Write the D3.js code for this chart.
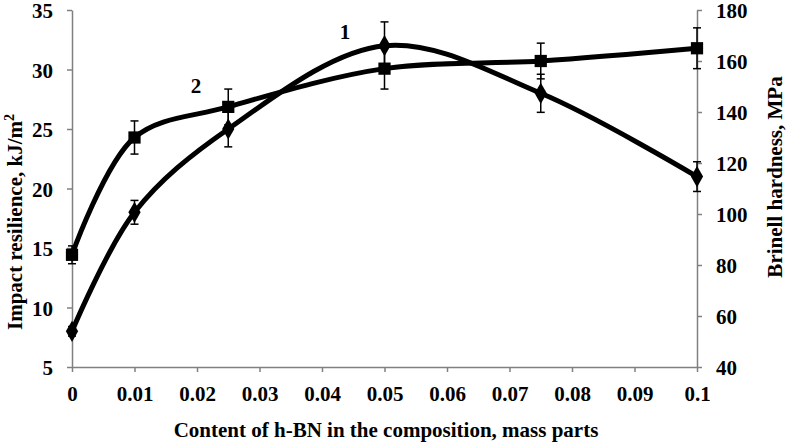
<!doctype html>
<html>
  <head>
    <title>h-BN content chart</title>
    <style>
      * { margin: 0; padding: 0; }
      body { background: #fff; }
      text { font-family: "Liberation Serif", "Times New Roman", serif; font-weight: bold; fill: #000; }
    </style>
    <script src="https://cdnjs.cloudflare.com/ajax/libs/d3/7.8.5/d3.min.js"></script>
  </head>
  <body>
    <script>
      // data
      var contents = [0, 0.01, 0.025, 0.05, 0.075, 0.1];
      var impact = [8, 18, 25, 32, 28, 21];           // curve 1, kJ/m2 (left axis)
      var impactErr = [0.4, 1, 1.5, 2, 1.6, 1.25];
      var hardness = [84, 130, 142, 157, 160, 165];   // curve 2, MPa (right axis)
      var hardnessErr = [3.5, 6.5, 7, 8, 7, 8];
      var xTicks = [0, 0.01, 0.02, 0.03, 0.04, 0.05, 0.06, 0.07, 0.08, 0.09, 0.1];
      var leftTicks = [5, 10, 15, 20, 25, 30, 35];
      var rightTicks = [40, 60, 80, 100, 120, 140, 160, 180];

      var width = 787, height = 444;
      var margin = {top: 10, right: 90, bottom: 77, left: 72};
      var fs = 21;

      var svg = d3.select("body").append("svg")
                  .attr("width", width)
                  .attr("height", height);

      var x = d3.scaleLinear().domain([0, 0.1]).range([margin.left, width - margin.right]);
      var yL = d3.scaleLinear().domain([5, 35]).range([height - margin.bottom, margin.top]);
      var yR = d3.scaleLinear().domain([40, 180]).range([height - margin.bottom, margin.top]);

      function styleAxis(g) {
        g.selectAll("path, line").attr("stroke", "#808080").attr("stroke-width", 1.5);
        g.selectAll("text").attr("font-size", fs + "px").attr("font-family", null);
      }

      svg.append("g")
         .attr("transform", "translate(0," + (height - margin.bottom) + ")")
         .call(d3.axisBottom(x).tickValues(xTicks).tickSize(5).tickSizeOuter(0)
               .tickPadding(14).tickFormat(function (d) { return d3.format("~g")(d); }))
         .call(styleAxis);

      svg.append("g")
         .attr("transform", "translate(" + margin.left + ",0)")
         .call(d3.axisLeft(yL).tickValues(leftTicks).tickSize(5).tickSizeOuter(0).tickPadding(14))
         .call(styleAxis)
         .selectAll("text").attr("dy", "0.36em");

      svg.append("g")
         .attr("transform", "translate(" + (width - margin.right) + ",0)")
         .call(d3.axisRight(yR).tickValues(rightTicks).tickSize(5).tickSizeOuter(0).tickPadding(14))
         .call(styleAxis)
         .selectAll("text").attr("dy", "0.36em");

      // axis titles
      svg.append("text")
         .attr("transform", "translate(22," + 222 + ") rotate(-90)")
         .attr("text-anchor", "middle")
         .attr("font-size", fs + "px")
         .text("Impact resilience, kJ/m")
         .append("tspan").attr("dy", -8).attr("font-size", "14px").text("2");

      svg.append("text")
         .attr("transform", "translate(782," + 177 + ") rotate(-90)")
         .attr("text-anchor", "middle")
         .attr("font-size", fs + "px")
         .text("Brinell hardness, MPa");

      svg.append("text")
         .attr("x", 386)
         .attr("y", 437)
         .attr("text-anchor", "middle")
         .attr("font-size", fs + "px")
         .text("Content of h-BN in the composition, mass parts");

      var series = [
        {vals: impact, err: impactErr, y: yL, mark: d3.symbolDiamond, size: 130},
        {vals: hardness, err: hardnessErr, y: yR, mark: d3.symbolSquare, size: 150}
      ];

      series.forEach(function (s) {
        var pts = contents.map(function (c, i) { return {x: c, v: s.vals[i], e: s.err[i]}; });
        var line = d3.line()
                     .x(function (d) { return x(d.x); })
                     .y(function (d) { return s.y(d.v); })
                     .curve(d3.curveCatmullRom.alpha(0.5));

        svg.append("path")
           .datum(pts)
           .attr("d", line)
           .attr("fill", "none")
           .attr("stroke", "#000")
           .attr("stroke-width", 5);

        var eb = svg.append("g").selectAll("g").data(pts).enter().append("g");
        eb.append("line")
          .attr("x1", function (d) { return x(d.x); })
          .attr("x2", function (d) { return x(d.x); })
          .attr("y1", function (d) { return s.y(d.v - d.e); })
          .attr("y2", function (d) { return s.y(d.v + d.e); })
          .attr("stroke", "#000").attr("stroke-width", 1.5);
        [-1, 1].forEach(function (k) {
          eb.append("line")
            .attr("x1", function (d) { return x(d.x) - 4; })
            .attr("x2", function (d) { return x(d.x) + 4; })
            .attr("y1", function (d) { return s.y(d.v + k * d.e); })
            .attr("y2", function (d) { return s.y(d.v + k * d.e); })
            .attr("stroke", "#000").attr("stroke-width", 1.5);
        });

        svg.append("g").selectAll("path").data(pts).enter().append("path")
           .attr("d", d3.symbol().type(s.mark).size(s.size))
           .attr("transform", function (d) { return "translate(" + x(d.x) + "," + s.y(d.v) + ")"; })
           .attr("fill", "#000");
      });

      // curve numbers
      svg.append("text").attr("x", 345).attr("y", 39).attr("text-anchor", "middle")
         .attr("font-size", fs + "px").text("1");
      svg.append("text").attr("x", 196).attr("y", 93).attr("text-anchor", "middle")
         .attr("font-size", fs + "px").text("2");
    </script>
  </body>
</html>
